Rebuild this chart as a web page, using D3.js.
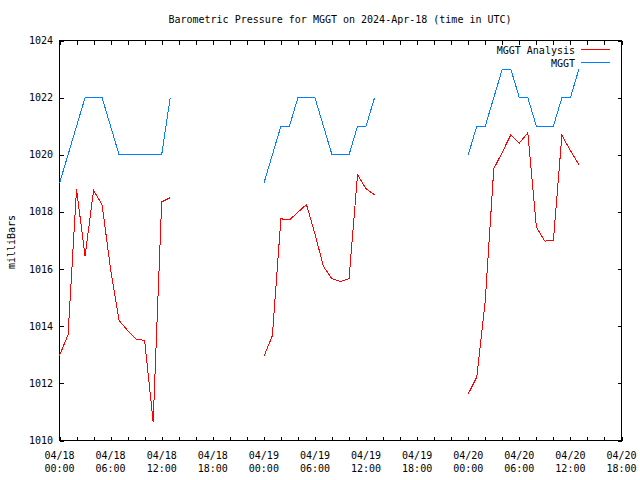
<!DOCTYPE html>
<html><head><meta charset="utf-8">
<script src="https://cdn.jsdelivr.net/npm/d3@7"></script>
<style>body{margin:0;background:#fff}svg{display:block}</style>
</head><body>
<svg id="c" width="640" height="480"></svg>
<script>
const titleText = "Barometric Pressure for MGGT on 2024-Apr-18 (time in UTC)";
const yLabel = "milliBars";
const startTime = "2024-04-18T00:00:00Z";
const endTime = "2024-04-20T18:00:00Z";
// hours after 2024-04-18 00:00 UTC
const hours = [0,1,2,3,4,5,6,7,8,9,10,11,12,13,
               24,25,26,27,28,29,30,31,32,33,34,35,36,37,
               48,49,50,51,52,53,54,55,56,57,58,59,60,61];
const analysis = [1012.97,1013.7,1018.8,1016.45,1018.75,1018.25,1016.0,1014.2,1013.85,1013.55,1013.5,1010.65,1018.35,1018.5,
                  1012.94,1013.67,1017.76,1017.72,1017.99,1018.26,1017.23,1016.09,1015.66,1015.57,1015.66,1019.3,1018.81,1018.6,
                  1011.63,1012.22,1014.9,1019.51,1020.09,1020.7,1020.41,1020.77,1017.47,1016.98,1017.0,1020.68,1020.15,1019.65];
const observed = [1019,1020,1021,1022,1022,1022,1021,1020,1020,1020,1020,1020,1020,1022,
                  1019,1020,1021,1021,1022,1022,1022,1021,1020,1020,1020,1021,1021,1022,
                  1020,1021,1021,1022,1023,1023,1022,1022,1021,1021,1021,1022,1022,1023];
const yTicks = [1010,1012,1014,1016,1018,1020,1022,1024];
const seriesNames = ["MGGT Analysis", "MGGT"];
const seriesColors = ["#ff0000", "#0080ff"];

const FONT = "'DejaVu Sans Mono', monospace";
const svg = d3.select("#c");
const L = 59, R = 621, T = 40, B = 440;
const t0 = new Date(startTime), t1 = new Date(endTime);
const x = d3.scaleUtc().domain([t0, t1]).range([L + 0.5, R + 0.5]);
const y = d3.scaleLinear().domain([1010, 1024]).range([B + 0.5, T + 0.5]);
const toDate = h => new Date(t0.getTime() + h * 3600e3);

svg.append("rect").attr("width", 640).attr("height", 480).attr("fill", "#fff");

// ticks every 2h, labels every 6h
const minorTicks = d3.utcHour.every(2).range(t0, new Date(t1.getTime() + 1));
const majorTicks = d3.utcHour.every(6).range(t0, new Date(t1.getTime() + 1));
const fmtDate = d3.utcFormat("%m/%d"), fmtTime = d3.utcFormat("%H:%M");

const xAxisB = d3.axisBottom(x).tickValues(minorTicks).tickSize(-4).tickFormat("");
const xAxisT = d3.axisTop(x).tickValues(minorTicks).tickSize(-4).tickFormat("");
const yAxisL = d3.axisLeft(y).tickValues(yTicks).tickSize(-4).tickFormat("");
const yAxisR = d3.axisRight(y).tickValues(yTicks).tickSize(-4).tickFormat("");

function styleAxis(g) {
  g.select(".domain").remove();
  g.selectAll("line").attr("stroke", "#000").attr("shape-rendering", "crispEdges");
}
svg.append("g").attr("transform", `translate(0,${B + 0.5})`).call(xAxisB).call(styleAxis);
svg.append("g").attr("transform", `translate(0,${T + 0.5})`).call(xAxisT).call(styleAxis);
svg.append("g").attr("transform", `translate(${L + 0.5},0)`).call(yAxisL).call(styleAxis);
svg.append("g").attr("transform", `translate(${R + 0.5},0)`).call(yAxisR).call(styleAxis);

// frame
svg.append("rect").attr("x", L + 0.5).attr("y", T + 0.5).attr("width", R - L).attr("height", B - T)
  .attr("fill", "none").attr("stroke", "#000").attr("shape-rendering", "crispEdges");

// y tick labels
svg.append("g").selectAll("text").data(yTicks).join("text")
  .attr("x", 53).attr("y", d => y(d) + 3.5)
  .attr("text-anchor", "end").attr("font-family", FONT).attr("font-size", 10)
  .text(d => d);

// x tick labels
const xl = svg.append("g").selectAll("text").data(majorTicks).join("text")
  .attr("text-anchor", "middle").attr("font-family", FONT).attr("font-size", 10);
xl.append("tspan").attr("x", d => x(d)).attr("y", 459).text(d => fmtDate(d));
xl.append("tspan").attr("x", d => x(d)).attr("y", 472).text(d => fmtTime(d));

// title
svg.append("text").attr("x", 340).attr("y", 23).attr("text-anchor", "middle")
  .attr("font-family", FONT).attr("font-size", 10).text(titleText);

// y label
svg.append("text").attr("transform", "translate(15,242) rotate(-90)").attr("text-anchor", "middle")
  .attr("font-family", FONT).attr("font-size", 10).text(yLabel);

// series, broken where hours are not consecutive
function segments(vals) {
  const segs = [];
  let cur = [];
  hours.forEach((h, i) => {
    if (i > 0 && h - hours[i - 1] > 1) { segs.push(cur); cur = []; }
    cur.push([toDate(h), vals[i]]);
  });
  segs.push(cur);
  return segs;
}
const line = d3.line().x(d => x(d[0])).y(d => y(d[1]));
[analysis, observed].forEach((vals, si) => {
  svg.append("g").selectAll("path").data(segments(vals)).join("path")
    .attr("d", line).attr("fill", "none").attr("stroke", seriesColors[si]).attr("stroke-width", 1)
    .attr("shape-rendering", "crispEdges");
});

// legend
const lg = svg.append("g");
seriesNames.forEach((name, i) => {
  const ly = 50 + i * 13;
  lg.append("text").attr("x", 575).attr("y", ly + 3.5).attr("text-anchor", "end")
    .attr("font-family", FONT).attr("font-size", 10).text(name);
  lg.append("line").attr("x1", 581).attr("x2", 610).attr("y1", ly - 0.5).attr("y2", ly - 0.5)
    .attr("stroke", seriesColors[i]).attr("stroke-width", 1).attr("shape-rendering", "crispEdges");
});
</script>
</body></html>
